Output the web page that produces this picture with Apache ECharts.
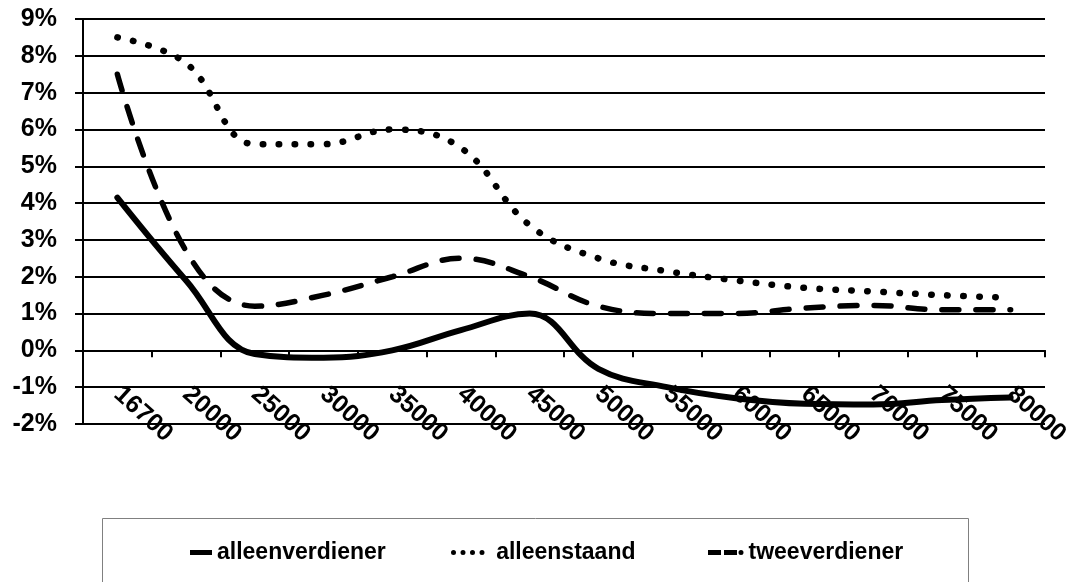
<!DOCTYPE html>
<html>
<head>
<meta charset="utf-8">
<script src="https://cdn.jsdelivr.net/npm/echarts@6/dist/echarts.min.js"></script>
<style>
html,body{margin:0;padding:0;background:#fff;}
#chart{width:1076px;height:582px;}
</style>
</head>
<body>
<div id="chart"></div>
<script>
const categories = ['16700','20000','25000','30000','35000','40000','45000','50000','55000','60000','65000','70000','75000','80000'];
const alleenverdiener = [4.15, 1.9, -0.1, -0.2, 0.0, 0.55, 1.0, -0.5, -1.0, -1.3, -1.45, -1.47, -1.35, -1.28];
const alleenstaand = [8.5, 7.8, 5.6, 5.6, 6.0, 5.5, 3.4, 2.5, 2.15, 1.9, 1.7, 1.6, 1.5, 1.43];
const tweeverdiener = [7.5, 2.7, 1.2, 1.5, 2.0, 2.5, 2.0, 1.2, 1.0, 1.0, 1.15, 1.22, 1.1, 1.1];
const yTicks = {min: -2, max: 9, interval: 1};

const FONT = '"Liberation Sans", Arial, sans-serif';
const chart = echarts.init(document.getElementById('chart'), null, {renderer: 'canvas'});

const legendText = {color: '#000', fontFamily: FONT, fontWeight: 'bold', fontSize: 23};

// legend icon shapes (drawn in a 5px-high box)
function dot(cx) {
  return 'M' + (cx - 2.5) + ',2.5A2.5,2.5 0 1 1 ' + (cx + 2.5) + ',2.5A2.5,2.5 0 1 1 ' + (cx - 2.5) + ',2.5Z';
}
const iconSolid = 'path://M0,0H22V5H0Z';
const iconDotted = 'path://' + dot(2.5) + dot(12) + dot(21.5) + dot(31);
const iconDashed = 'path://M0,0H13V5H0Z M16,0H29V5H16Z ' + dot(33);

chart.setOption({
  backgroundColor: '#fff',
  animation: false,
  grid: {left: 83, right: 31, top: 19, bottom: 158, containLabel: false},
  xAxis: {
    type: 'category',
    data: categories,
    boundaryGap: true,
    axisLine: {onZero: true, lineStyle: {color: '#000', width: 2}},
    axisTick: {show: true, length: 7, inside: false, lineStyle: {color: '#000', width: 2}},
    axisLabel: {interval: 0, rotate: -42, margin: -33, color: '#000', fontFamily: FONT, fontWeight: 'bold', fontSize: 25},
    splitLine: {show: false}
  },
  yAxis: {
    type: 'value',
    min: yTicks.min, max: yTicks.max, interval: yTicks.interval,
    axisLine: {show: true, lineStyle: {color: '#000', width: 2}},
    axisTick: {show: true, length: 8, lineStyle: {color: '#000', width: 2}},
    axisLabel: {formatter: '{value}%', margin: 26, color: '#000', fontFamily: FONT, fontWeight: 'bold', fontSize: 25},
    splitLine: {show: true, lineStyle: {color: '#000', width: 2}}
  },
  legend: [
    {data: [{name: 'alleenverdiener', icon: iconSolid}], left: 190, top: 541, itemWidth: 22, itemHeight: 5, itemGap: 0, textStyle: legendText, padding: 0, itemStyle: {borderWidth: 0}},
    {data: [{name: 'alleenstaand', icon: iconDotted}], left: 451, top: 541, itemWidth: 34, itemHeight: 5, itemGap: 0, textStyle: legendText, padding: 0, itemStyle: {borderWidth: 0}, formatter: ' {name}'},
    {data: [{name: 'tweeverdiener', icon: iconDashed}], left: 708, top: 541, itemWidth: 35.5, itemHeight: 5, itemGap: 0, textStyle: legendText, padding: 0, itemStyle: {borderWidth: 0}}
  ],
  graphic: [{
    type: 'rect', silent: true,
    shape: {x: 102.5, y: 518.5, width: 866, height: 80},
    style: {fill: 'none', stroke: '#808080', lineWidth: 1}
  }],
  series: [
    {
      name: 'alleenverdiener', type: 'line', data: alleenverdiener,
      symbol: 'none', smooth: 0.4, z: 3,
      lineStyle: {color: '#000', width: 6, type: 'solid', cap: 'round', join: 'round'},
      itemStyle: {color: '#000'}
    },
    {
      name: 'alleenstaand', type: 'line', data: alleenstaand,
      symbol: 'none', smooth: 0.4, z: 2,
      lineStyle: {color: '#000', width: 6.5, type: [0.5, 15.5], cap: 'round'},
      itemStyle: {color: '#000'}
    },
    {
      name: 'tweeverdiener', type: 'line', data: tweeverdiener,
      symbol: 'none', smooth: 0.4, z: 2,
      lineStyle: {color: '#000', width: 5.5, type: [17, 17], cap: 'round'},
      itemStyle: {color: '#000'}
    }
  ]
});
</script>
</body>
</html>
